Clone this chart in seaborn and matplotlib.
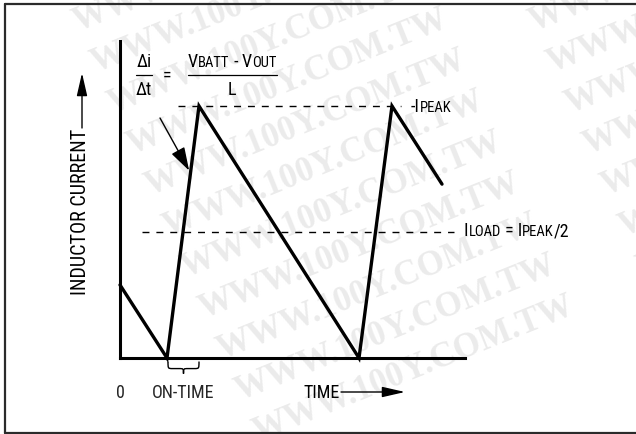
import matplotlib
matplotlib.use("Agg")
import matplotlib.pyplot as plt
import matplotlib.font_manager as fm
from matplotlib.lines import Line2D
from matplotlib.path import Path
from matplotlib.patches import PathPatch
import pandas as pd
import seaborn as sns

# Inductor current waveform: time in arbitrary units, current normalised to I_PEAK
time = [0.0, 0.47, 0.79, 2.39, 2.72, 3.22]
current = [0.29, 0.0, 1.0, 0.0, 1.0, 0.69]
i_peak = 1.0
i_load = i_peak / 2
on_time = (0.47, 0.79)
x_tick_labels = ["0", "ON-TIME"]
y_axis_label = "INDUCTOR CURRENT"
x_axis_label = "TIME"
watermark = "WWW.100Y.COM.TW"

W, H = 636, 434

sns.set_theme(style="white")
available = {f.name for f in fm.fontManager.ttflist}
narrow = next((n for n in ["Liberation Sans Narrow", "Roboto Condensed", "DejaVu Sans"]
               if n in available), "DejaVu Sans")
plt.rcParams["font.family"] = [narrow, "DejaVu Sans"]
plt.rcParams["text.color"] = "black"

BIG, SMALL = 13, 10.5


def fx(x):
    return x / W


def fy(y):
    return 1 - y / H


fig = plt.figure(figsize=(W / 100, H / 100), dpi=100, facecolor="white")
renderer = fig.canvas.get_renderer()

# faint diagonal watermark tiled behind the drawing
for m in (0, 1):
    for k in range(-3, 11):
        fig.text(fx(77 + 18 * k + 456 * m), fy(32 + 41 * k), watermark,
                 rotation=22, rotation_mode="anchor", ha="left", va="baseline",
                 family=["Liberation Serif", "DejaVu Serif"], weight="bold",
                 size=25, color="#ebebeb", zorder=-5)

# outer frame (open on the right)
frame_kw = dict(color="#2b2b2b", lw=1.6, transform=fig.transFigure, zorder=1)
fig.add_artist(Line2D([fx(5), fx(5)], [fy(4), fy(433)], **frame_kw))
fig.add_artist(Line2D([fx(5), fx(640)], [fy(4), fy(4)], **frame_kw))
fig.add_artist(Line2D([fx(5), fx(640)], [fy(433), fy(433)], **frame_kw))

ax = fig.add_axes([fx(120), fy(358), (465 - 120) / W, (358 - 41) / H])
ax.set_facecolor("none")
ax.set_xlim(0, 3.45)
ax.set_ylim(0, 1.258)

df = pd.DataFrame({"time": time, "current": current})
sns.lineplot(data=df, x="time", y="current", ax=ax, color="black",
             linewidth=2.4, sort=False, estimator=None)
for ln in ax.lines:
    ln.set_clip_on(False)
    ln.set_solid_joinstyle("miter")

# reference levels
ax.hlines(i_peak, 0.58, 2.81, colors="black", lw=1.0, linestyles=(0, (5, 5)), clip_on=False)
ax.hlines(i_load, 0.22, 3.34, colors="black", lw=1.0, linestyles=(0, (5, 5)), clip_on=False)

for side in ("top", "right"):
    ax.spines[side].set_visible(False)
for side in ("left", "bottom"):
    ax.spines[side].set_linewidth(2.2)
    ax.spines[side].set_color("black")
ax.set_yticks([])
ax.set_xticks([0, sum(on_time) / 2], x_tick_labels)
ax.tick_params(axis="x", length=0, pad=19, labelsize=BIG)
ax.set_xlabel("")
ax.set_ylabel("")

# brace marking the on-time
x0, x1 = on_time[0] + 0.01, on_time[1]
xm = (x0 + x1) / 2
yt, ymid, ytip, r = -0.014, -0.042, -0.062, 0.045
verts = [(x0, yt), (x0, ymid), (x0, ymid), (x0 + r, ymid),
         (xm - r, ymid), (xm, ymid), (xm, ymid), (xm, ytip),
         (xm, ymid), (xm, ymid), (xm + r, ymid),
         (x1 - r, ymid), (x1, ymid), (x1, ymid), (x1, yt)]
codes = [Path.MOVETO, Path.CURVE4, Path.CURVE4, Path.CURVE4,
         Path.LINETO, Path.CURVE4, Path.CURVE4, Path.CURVE4,
         Path.CURVE4, Path.CURVE4, Path.CURVE4,
         Path.LINETO, Path.CURVE4, Path.CURVE4, Path.CURVE4]
ax.add_patch(PathPatch(Path(verts, codes), fill=False, lw=1.0, ec="black", clip_on=False))

arrow_kw = dict(arrowstyle="-|>,head_length=0.7,head_width=0.16", color="black",
                lw=1.0, mutation_scale=20, shrinkA=0, shrinkB=0)

# axis labels with arrows
fig.text(fx(81), fy(295), y_axis_label, rotation=90, ha="center", va="bottom", size=14.5)
ax.annotate("", xy=(fx(82), fy(73)), xycoords="figure fraction",
            xytext=(fx(82), fy(128)), textcoords="figure fraction",
            arrowprops=arrow_kw, annotation_clip=False)
fig.text(fx(303), fy(398), x_axis_label, ha="left", va="baseline", size=BIG)
ax.annotate("", xy=(fx(405), fy(392)), xycoords="figure fraction",
            xytext=(fx(341), fy(392)), textcoords="figure fraction",
            arrowprops=arrow_kw, annotation_clip=False)

# slope pointer onto the rising edge
t_rise = on_time[0] + (on_time[1] - on_time[0]) * 0.734
ax.annotate("", xy=(t_rise, 0.734), xycoords="data",
            xytext=(fx(160), fy(118)), textcoords="figure fraction",
            arrowprops=dict(arrowstyle="-|>,head_length=0.8,head_width=0.25", color="black",
                            lw=1.0, mutation_scale=18, shrinkA=0, shrinkB=2),
            annotation_clip=False)


def compose(x, y, parts):
    """Write text pieces of different sizes side by side on one baseline."""
    for s, size in parts:
        t = fig.text(fx(x), fy(y), s, size=size, ha="left", va="baseline")
        x += t.get_window_extent(renderer).width
    return x


# slope equation
fig.text(fx(144), fy(67), "\u0394i", ha="center", va="baseline", size=BIG)
fig.text(fx(144), fy(95), "\u0394t", ha="center", va="baseline", size=BIG)
fig.add_artist(Line2D([fx(136), fx(152)], [fy(75), fy(75)], color="black", lw=0.9,
                      transform=fig.transFigure))
fig.text(fx(167), fy(76), "=", ha="center", va="center", size=BIG)
end = compose(188, 67, [("V", BIG), ("BATT", SMALL), (" - ", BIG), ("V", BIG), ("OUT", SMALL)])
fig.add_artist(Line2D([fx(188), fx(end)], [fy(75), fy(75)], color="black", lw=0.9,
                      transform=fig.transFigure))
fig.text(fx((188 + end) / 2), fy(95), "L", ha="center", va="baseline", size=BIG)

# level labels
compose(411, 112, [("-I", BIG), ("PEAK", SMALL)])
compose(464, 236, [("I", BIG), ("LOAD", SMALL), (" = I", BIG), ("PEAK", SMALL), ("/2", BIG)])

fig.savefig("out.png", dpi=100, facecolor="white")
